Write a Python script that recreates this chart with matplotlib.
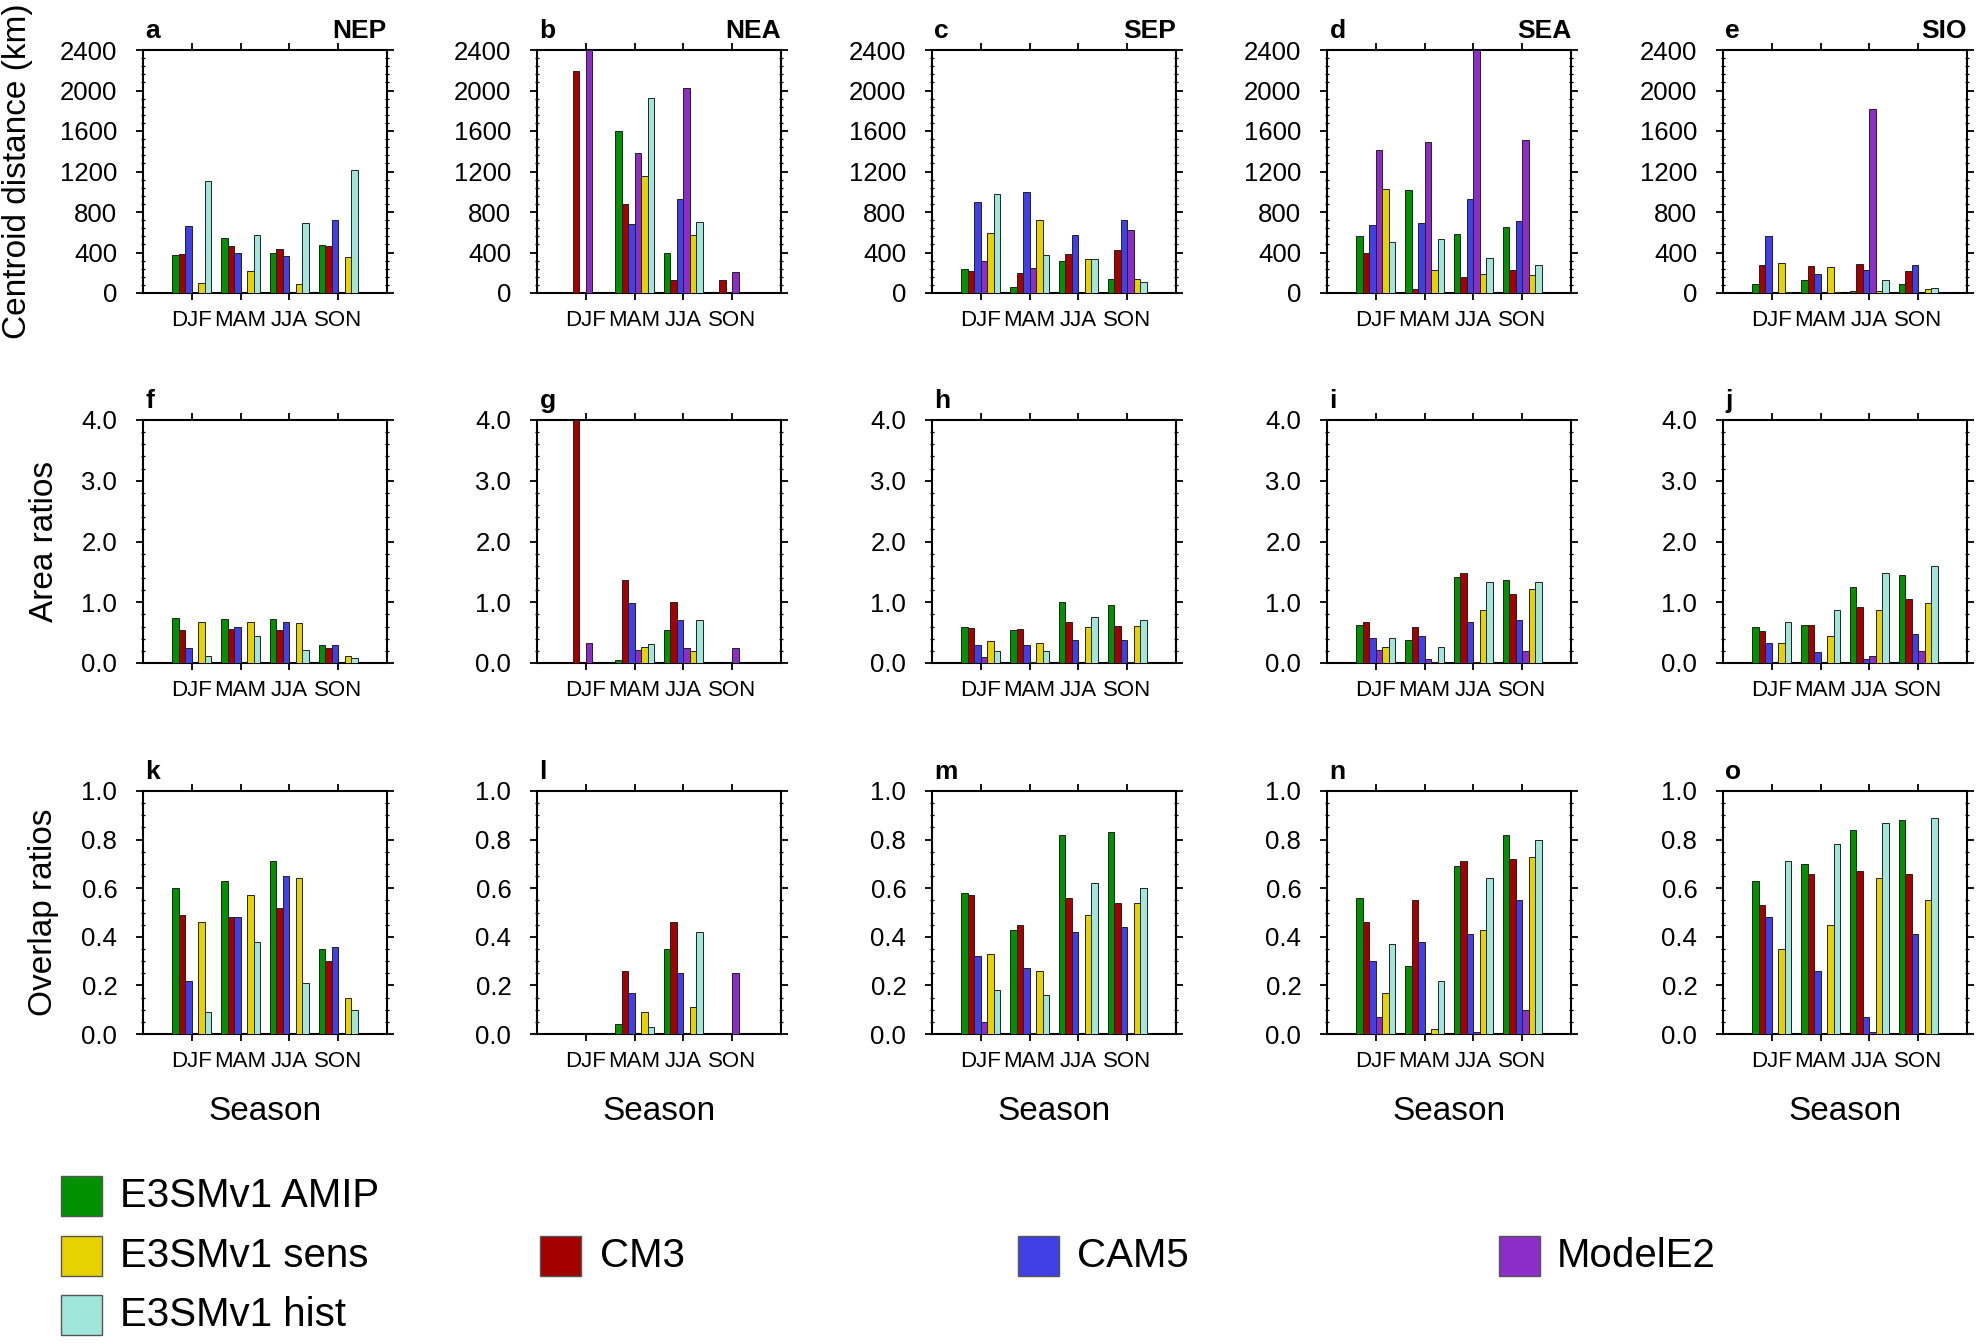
import numpy as np
import matplotlib
matplotlib.use('Agg')
import matplotlib.pyplot as plt
from matplotlib.ticker import MultipleLocator, AutoMinorLocator, FormatStrFormatter
from matplotlib.patches import Rectangle

plt.rcParams['font.family'] = ['Liberation Sans', 'DejaVu Sans']

seasons = ['DJF', 'MAM', 'JJA', 'SON']
models = ['E3SMv1 AMIP', 'CM3', 'CAM5', 'ModelE2', 'E3SMv1 sens', 'E3SMv1 hist']
colors = ['#009000', '#a50000', '#4040e6', '#8c2dc8', '#e6d200', '#a0e6da']
regions = ['NEP', 'NEA', 'SEP', 'SEA', 'SIO']

# centroid distance (km), rows follow `models`, columns follow `seasons`
dist_nep = [[380, 540, 400, 470], [390, 460, 430, 460], [660, 400, 365, 720],
            [0, 0, 0, 0], [100, 220, 90, 360], [1110, 570, 690, 1210]]
dist_nea = [[0, 1600, 400, 0], [2190, 875, 130, 130], [0, 680, 930, 0],
            [2400, 1380, 2020, 210], [0, 1160, 570, 0], [0, 1930, 700, 0]]
dist_sep = [[240, 60, 320, 140], [220, 200, 390, 420], [900, 1000, 575, 720],
            [320, 250, 0, 620], [590, 720, 340, 140], [980, 380, 335, 110]]
dist_sea = [[565, 1020, 585, 655], [400, 35, 160, 230], [670, 690, 930, 715],
            [1410, 1490, 2400, 1510], [1030, 230, 185, 180], [500, 535, 345, 280]]
dist_sio = [[85, 130, 15, 85], [275, 265, 285, 220], [560, 190, 225, 280],
            [0, 0, 1820, 0], [300, 255, 15, 35], [10, 10, 125, 45]]

# area ratios
area_nep = [[.74, .73, .72, .30], [.55, .56, .54, .24], [.24, .60, .68, .30],
            [0, 0, 0, 0], [.67, .67, .66, .12], [.12, .45, .22, .08]]
area_nea = [[0, .05, .55, 0], [4.0, 1.37, 1.0, 0], [0, .99, .71, 0],
            [.33, .21, .25, .24], [0, .26, .19, 0], [0, .31, .70, 0]]
area_sep = [[.59, .54, 1.0, .95], [.58, .56, .67, .61], [.29, .29, .38, .38],
            [.10, .01, 0, .01], [.37, .33, .60, .61], [.19, .19, .75, .70]]
area_sea = [[.63, .38, 1.41, 1.37], [.67, .59, 1.48, 1.14], [.41, .44, .67, .71],
            [.22, .07, .02, .19], [.27, .01, .87, 1.22], [.41, .26, 1.34, 1.34]]
area_sio = [[.59, .63, 1.25, 1.45], [.52, .63, .93, 1.06], [.33, .18, .07, .47],
            [0, 0, .12, .19], [.33, .45, .87, .99], [.67, .87, 1.48, 1.60]]

# overlap ratios
ov_nep = [[.60, .63, .71, .35], [.49, .48, .52, .30], [.22, .48, .65, .36],
          [0, 0, 0, 0], [.46, .57, .64, .15], [.09, .38, .21, .10]]
ov_nea = [[0, .04, .35, 0], [0, .26, .46, 0], [0, .17, .25, 0],
          [0, 0, 0, .25], [0, .09, .11, 0], [0, .03, .42, 0]]
ov_sep = [[.58, .43, .82, .83], [.57, .45, .56, .54], [.32, .27, .42, .44],
          [.05, .005, 0, .005], [.33, .26, .49, .54], [.18, .16, .62, .60]]
ov_sea = [[.56, .28, .69, .82], [.46, .55, .71, .72], [.30, .38, .41, .55],
          [.07, 0, .01, .10], [.17, .02, .43, .73], [.37, .22, .64, .80]]
ov_sio = [[.63, .70, .84, .88], [.53, .66, .67, .66], [.48, .26, .07, .41],
          [0, 0, .01, 0], [.35, .45, .64, .55], [.71, .78, .87, .89]]

rows = [
    dict(data=[dist_nep, dist_nea, dist_sep, dist_sea, dist_sio], ymax=2400, step=400,
         fmt='%d', minor=5, ylabel='Centroid distance (km)', ylx=18, letters='abcde'),
    dict(data=[area_nep, area_nea, area_sep, area_sea, area_sio], ymax=4.0, step=1.0,
         fmt='%.1f', minor=5, ylabel='Area ratios', ylx=45, letters='fghij'),
    dict(data=[ov_nep, ov_nea, ov_sep, ov_sea, ov_sio], ymax=1.0, step=0.2,
         fmt='%.1f', minor=4, ylabel='Overlap ratios', ylx=44, letters='klmno'),
]

W, H = 1980, 1343
fig = plt.figure(figsize=(W / 100, H / 100), dpi=100)

lefts = [143, 537, 932, 1327, 1723]
tops = [50, 420, 791]
aw, ah = 244, 243
bw = 0.134
x = np.arange(1, 5)

for r, row in enumerate(rows):
    for p in range(5):
        ax = fig.add_axes([lefts[p] / W, 1 - (tops[r] + ah) / H, aw / W, ah / H])
        vals = row['data'][p]
        for i in range(6):
            ax.bar(x + (i - 2.5) * bw, vals[i], width=bw, color=colors[i],
                   edgecolor='#222222', linewidth=0.7, zorder=3)
        ax.set_xlim(0, 5)
        ax.set_ylim(0, row['ymax'])
        ax.set_xticks(x)
        ax.set_xticklabels(seasons)
        ax.yaxis.set_major_locator(MultipleLocator(row['step']))
        ax.yaxis.set_minor_locator(AutoMinorLocator(row['minor']))
        ax.yaxis.set_major_formatter(FormatStrFormatter(row['fmt']))
        for s in ax.spines.values():
            s.set_linewidth(1.5)
        ax.tick_params(axis='x', which='major', top=True, bottom=True, direction='out',
                       length=5, width=1.3, labelsize=16, pad=7.5)
        ax.tick_params(axis='y', which='major', left=True, right=True, direction='out',
                       length=5, width=1.3, labelsize=18.5, pad=13.5)
        ax.tick_params(axis='y', which='minor', left=True, right=True, direction='inout',
                       length=3.5, width=0.9)
        ax.text(0.01, 1 + 12 / ah, row['letters'][p], transform=ax.transAxes,
                ha='left', va='baseline', fontsize=19, fontweight='bold')
        if r == 0:
            ax.text(1.0, 1 + 12 / ah, regions[p], transform=ax.transAxes,
                    ha='right', va='baseline', fontsize=19, fontweight='bold')
        if r == 2:
            fig.text((lefts[p] + aw / 2) / W, 1 - 1111 / H, 'Season',
                     ha='center', va='center', fontsize=24)
    fig.text(row['ylx'] / W, 1 - (tops[r] + ah / 2) / H, row['ylabel'],
             rotation=90, ha='center', va='center', fontsize=24)

# legend
leg_pos = {0: (0, 0), 4: (0, 1), 5: (0, 2), 1: (1, 1), 2: (2, 1), 3: (3, 1)}
box_x = [61, 540, 1018, 1499]
txt_x = [120, 600, 1077, 1557]
row_y = [1196, 1256, 1315]
for i, (c, rr) in leg_pos.items():
    fig.patches.append(Rectangle((box_x[c] / W, 1 - (row_y[rr] + 20) / H), 41 / W, 40 / H,
                                 transform=fig.transFigure, facecolor=colors[i],
                                 edgecolor='#555555', linewidth=1.0))
    fig.text(txt_x[c] / W, 1 - row_y[rr] / H, models[i], ha='left', va='center', fontsize=29)

fig.savefig('out.png', dpi=100)
